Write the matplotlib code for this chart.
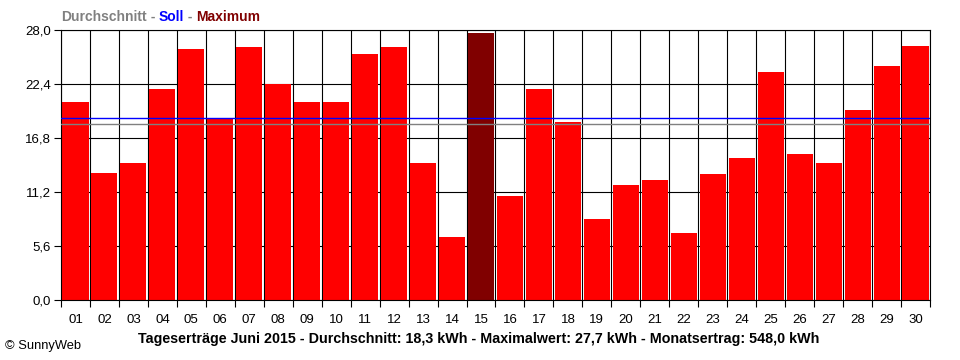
import matplotlib
matplotlib.use("Agg")
import matplotlib.pyplot as plt
import numpy as np

days = ["01","02","03","04","05","06","07","08","09","10","11","12","13","14","15",
        "16","17","18","19","20","21","22","23","24","25","26","27","28","29","30"]
values = [20.5, 13.2, 14.2, 21.9, 26.0, 18.9, 26.2, 22.4, 20.5, 20.5,
          25.5, 26.2, 14.2, 6.5, 27.7, 10.8, 21.9, 18.5, 8.4, 11.9,
          12.4, 7.0, 13.1, 14.7, 23.6, 15.1, 14.2, 19.7, 24.3, 26.3]
average = 18.3
target = 18.9
yticks = [0.0, 5.6, 11.2, 16.8, 22.4, 28.0]
title_parts = [("Durchschnitt", "#808080"), (" - ", "#808080"), ("Soll", "#0000FF"),
               (" - ", "#808080"), ("Maximum", "#800000")]
caption = "Tageserträge Juni 2015 - Durchschnitt: 18,3 kWh - Maximalwert: 27,7 kWh - Monatsertrag: 548,0 kWh"
credit = "© SunnyWeb"

plt.rcParams['font.family'] = ['Liberation Sans', 'DejaVu Sans']

fig = plt.figure(figsize=(9.6, 3.6), dpi=100)
ax = fig.add_axes([61/960, 1-300/360, 869/960, 270/360])

x = np.arange(1, len(values) + 1)
imax = int(np.argmax(values))
colors = ["#FF0000"] * len(values)
colors[imax] = "#800000"
ax.bar(x, values, width=0.9, color=colors, zorder=2)

ax.axhline(target, color="#0000FF", lw=1.0, zorder=3)
ax.axhline(average, color="#808080", lw=1.0, zorder=3)

ax.set_xlim(0.5, len(values) + 0.5)
ax.set_ylim(0, 28)
ax.set_xticks(np.arange(0.5, len(values) + 1, 1.0))
ax.set_xticklabels([])
ax.set_xticks(x, minor=True)
ax.set_xticklabels(days, minor=True)
ax.tick_params(axis='x', which='major', length=5, width=0.8, color='black', direction='out')
ax.tick_params(axis='x', which='minor', length=0, pad=10, labelsize=9.5)
ax.set_yticks(yticks)
ax.set_yticklabels([f"{v:.1f}".replace(".", ",") for v in yticks])
ax.tick_params(axis='y', length=5, width=0.8, direction='out', labelsize=9.5, pad=2)

ax.grid(True, which='major', color='black', lw=0.8, zorder=0)
ax.set_axisbelow(True)
for s in ax.spines.values():
    s.set_color('black')
    s.set_linewidth(0.8)

# header title
tx = 61
for txt, col in title_parts:
    t = fig.text(tx/960, 1-17/360, txt, color=col, fontsize=10, fontweight='bold', va='center', ha='left')
    fig.canvas.draw()
    bb = t.get_window_extent()
    tx += bb.width

fig.text(479/960, 1-339/360, caption, fontsize=10.3, fontweight='bold', ha='center', va='center')
fig.text(5/960, 1-346/360, credit, fontsize=9.3, ha='left', va='center')

fig.savefig("out.png", dpi=100)
